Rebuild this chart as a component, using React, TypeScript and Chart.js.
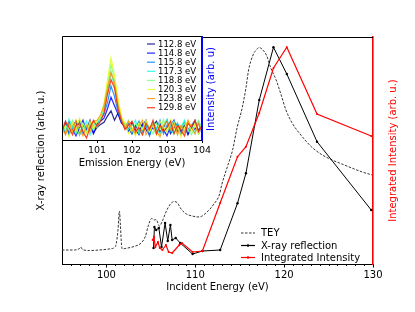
import React, { useEffect, useRef } from 'react';
import { Chart, registerables } from 'chart.js';
Chart.register(...registerables);

const FONT = "'DejaVu Sans', sans-serif";

// ---- Main plot data (incident energy scan) ----
const TEY_E = [95.0, 96.4, 96.97, 97.1, 97.3, 98.1, 99.2, 100.3, 100.9, 101.1, 101.3, 101.46, 101.57, 101.7, 101.8, 102.1, 103.1, 103.9, 104.4, 104.7, 105.1, 105.4, 105.6, 105.95, 106.3, 106.7, 107.2, 107.65, 108.0, 108.4, 109.0, 109.66, 110.45, 111.2, 112.1, 112.7, 113.0, 113.6, 114.2, 114.7, 115.3, 115.7, 116.0, 116.5, 116.85, 117.2, 117.6, 118.0, 118.5, 119.1, 119.7, 120.2, 120.9, 121.7, 123.1, 124.3, 125.4, 126.5, 127.6, 128.8, 129.9];
const TEY_V = [14, 14, 15.5, 17, 14.5, 13.5, 14, 15, 16.5, 20, 34, 53, 39, 19, 15, 15.5, 17.5, 21, 28, 38, 45.5, 44, 44.5, 38, 43, 52, 60, 62.5, 61, 55, 50, 48, 47, 51, 60, 69, 80, 97, 114, 136, 157, 176, 194, 209, 214, 216.5, 214, 209, 196, 184, 168, 154, 141, 131, 117, 109, 104, 100, 96, 92, 89];

const XRR_E = [105.3, 105.4, 105.6, 105.9, 106.2, 106.6, 106.9, 107.2, 107.4, 107.8, 108.3, 109.7, 110.8, 112.8, 114.75, 115.7, 117.2, 118.8, 120.3, 123.7, 129.8];
const XRR_V = [16, 37, 34, 36, 17, 41, 23, 39, 24, 26, 21, 10, 13, 14, 60.7, 90.7, 164, 216.7, 190, 122.3, 54];

const INT_E = [105.2, 105.35, 105.5, 105.8, 106.0, 106.3, 106.7, 107.0, 107.4, 108.2, 108.5, 109.7, 110.8, 112.8, 114.75, 115.7, 117.2, 118.8, 120.3, 123.7, 129.8];
const INT_V = [24, 27, 17, 22, 16, 14, 19, 12, 11, 19, 21, 12, 13, 61, 107.3, 117.3, 151, 196, 216.7, 150, 128];

const MAIN_X_TICKS = [100, 110, 120, 130];
const MAIN_X_MINOR = [96, 97, 98, 99, 101, 102, 103, 104, 105, 106, 107, 108, 109, 111, 112, 113, 114, 115, 116, 117, 118, 119, 121, 122, 123, 124, 125, 126, 127, 128, 129];

// ---- Inset data (emission spectra) ----
const EMISSION_E = [100.0, 100.1, 100.2, 100.3, 100.4, 100.5, 100.6, 100.7, 100.8, 100.9, 101.0, 101.1, 101.2, 101.3, 101.4, 101.5, 101.6, 101.7, 101.8, 101.9, 102.0, 102.1, 102.2, 102.3, 102.4, 102.5, 102.6, 102.7, 102.8, 102.9, 103.0, 103.1, 103.2, 103.3, 103.4, 103.5, 103.6, 103.7, 103.8, 103.9, 104.0];
const INSET_X_TICKS = [101, 102, 103, 104];
const SPEC_LABELS = ['112.8 eV', '114.8 eV', '115.8 eV', '117.3 eV', '118.8 eV', '120.3 eV', '123.8 eV', '129.8 eV'];
const SPEC_COLORS = ['rgba(0,0,128,0.85)', 'rgba(0,0,255,0.85)', 'rgba(0,128,255,0.85)', 'rgba(20,255,226,0.85)', 'rgba(123,255,123,0.85)', 'rgba(226,255,20,0.85)', 'rgba(255,150,0,0.85)', 'rgba(255,33,0,0.85)'];
const SPEC_112_8 = [0.08, 0.16, 0.06, 0.13, 0.18, 0.05, 0.14, 0.10, 0.19, 0.07, 0.12, 0.15, 0.17, 0.23, 0.28, 0.19, 0.26, 0.17, 0.15, 0.11, 0.06, 0.14, 0.08, 0.16, 0.10, 0.05, 0.14, 0.18, 0.08, 0.12, 0.19, 0.06, 0.12, 0.16, 0.08, 0.14, 0.05, 0.12, 0.18, 0.09, 0.14];
const SPEC_114_8 = [0.14, 0.06, 0.18, 0.10, 0.04, 0.12, 0.19, 0.08, 0.14, 0.06, 0.15, 0.18, 0.21, 0.30, 0.41, 0.33, 0.25, 0.16, 0.14, 0.08, 0.17, 0.10, 0.05, 0.14, 0.19, 0.08, 0.12, 0.06, 0.16, 0.10, 0.04, 0.14, 0.19, 0.08, 0.12, 0.17, 0.06, 0.14, 0.10, 0.16, 0.08];
const SPEC_115_8 = [0.10, 0.18, 0.05, 0.14, 0.08, 0.19, 0.06, 0.12, 0.16, 0.10, 0.16, 0.19, 0.25, 0.36, 0.52, 0.42, 0.27, 0.18, 0.11, 0.16, 0.06, 0.12, 0.18, 0.08, 0.14, 0.04, 0.16, 0.10, 0.19, 0.06, 0.14, 0.08, 0.18, 0.12, 0.05, 0.16, 0.10, 0.14, 0.19, 0.06, 0.12];
const SPEC_117_3 = [0.16, 0.08, 0.20, 0.12, 0.06, 0.14, 0.10, 0.18, 0.05, 0.14, 0.17, 0.21, 0.30, 0.46, 0.65, 0.52, 0.32, 0.20, 0.15, 0.10, 0.14, 0.19, 0.06, 0.12, 0.16, 0.08, 0.18, 0.12, 0.05, 0.14, 0.20, 0.10, 0.06, 0.16, 0.12, 0.19, 0.08, 0.14, 0.06, 0.18, 0.12];
const SPEC_118_8 = [0.06, 0.14, 0.10, 0.19, 0.12, 0.05, 0.16, 0.08, 0.14, 0.18, 0.12, 0.20, 0.33, 0.52, 0.73, 0.58, 0.36, 0.21, 0.13, 0.19, 0.08, 0.16, 0.10, 0.05, 0.18, 0.12, 0.06, 0.16, 0.10, 0.20, 0.08, 0.14, 0.18, 0.06, 0.12, 0.16, 0.10, 0.05, 0.14, 0.19, 0.10];
const SPEC_120_3 = [0.19, 0.10, 0.03, 0.16, 0.08, 0.21, 0.12, 0.06, 0.18, 0.10, 0.18, 0.23, 0.35, 0.58, 0.79, 0.62, 0.40, 0.22, 0.16, 0.06, 0.12, 0.04, 0.16, 0.10, 0.19, 0.08, 0.14, 0.05, 0.18, 0.12, 0.08, 0.19, 0.10, 0.14, 0.03, 0.12, 0.18, 0.08, 0.16, 0.06, 0.14];
const SPEC_123_8 = [0.12, 0.05, 0.16, 0.08, 0.19, 0.10, 0.04, 0.14, 0.08, 0.18, 0.19, 0.24, 0.33, 0.50, 0.65, 0.55, 0.34, 0.20, 0.12, 0.18, 0.10, 0.06, 0.14, 0.19, 0.05, 0.12, 0.16, 0.08, 0.03, 0.14, 0.18, 0.10, 0.16, 0.05, 0.14, 0.08, 0.19, 0.12, 0.06, 0.16, 0.08];
const SPEC_129_8 = [0.08, 0.18, 0.12, 0.05, 0.14, 0.16, 0.08, 0.02, 0.12, 0.19, 0.13, 0.18, 0.26, 0.44, 0.58, 0.50, 0.30, 0.18, 0.10, 0.14, 0.18, 0.08, 0.12, 0.05, 0.16, 0.10, 0.19, 0.06, 0.14, 0.08, 0.12, 0.18, 0.06, 0.14, 0.10, 0.04, 0.16, 0.12, 0.19, 0.08, 0.14];
const SPECTRA = [SPEC_112_8, SPEC_114_8, SPEC_115_8, SPEC_117_3, SPEC_118_8, SPEC_120_3, SPEC_123_8, SPEC_129_8];

const toPts = (xs: number[], ys: number[]) => xs.map((x, i) => ({ x, y: ys[i] }));

const mainDecor = {
  id: 'mainDecor',
  afterDraw(chart: any) {
    const { ctx, chartArea: a, scales } = chart;
    ctx.save();
    ctx.strokeStyle = '#000';
    ctx.lineWidth = 1;
    ctx.beginPath();
    ctx.moveTo(a.left, a.top + 0.5);
    ctx.lineTo(a.right, a.top + 0.5);
    ctx.stroke();
    MAIN_X_MINOR.forEach((v) => {
      const px = Math.round(scales.x.getPixelForValue(v)) + 0.5;
      ctx.beginPath();
      ctx.moveTo(px, a.bottom);
      ctx.lineTo(px, a.bottom + 2);
      ctx.stroke();
    });
    ctx.fillStyle = '#ff0000';
    ctx.font = `10px ${FONT}`;
    ctx.textAlign = 'center';
    ctx.textBaseline = 'middle';
    ctx.translate(393, (a.top + a.bottom) / 2);
    ctx.rotate(-Math.PI / 2);
    ctx.fillText('Integrated Intensity (arb. u.)', 0, 0);
    ctx.restore();

    ctx.save();
    ctx.font = `10px ${FONT}`;
    ctx.textBaseline = 'middle';
    ctx.textAlign = 'left';
    const x0 = 241, x1 = 255, tx = 261;
    const rows = [
      { y: 233, color: '#333', dash: [2.5, 1.5], label: 'TEY', dot: false },
      { y: 245.5, color: '#000', dash: [], label: 'X-ray reflection', dot: true },
      { y: 257.5, color: '#ff0000', dash: [], label: 'Integrated Intensity', dot: true },
    ];
    rows.forEach((r) => {
      ctx.strokeStyle = r.color;
      ctx.lineWidth = 1.2;
      ctx.setLineDash(r.dash);
      ctx.beginPath();
      ctx.moveTo(x0, r.y);
      ctx.lineTo(x1, r.y);
      ctx.stroke();
      ctx.setLineDash([]);
      if (r.dot) {
        ctx.fillStyle = r.color;
        ctx.beginPath();
        ctx.arc((x0 + x1) / 2, r.y, 1.2, 0, Math.PI * 2);
        ctx.fill();
      }
      ctx.fillStyle = '#000';
      ctx.fillText(r.label, tx, r.y + 0.5);
    });
    ctx.restore();
  },
};

const insetDecor = {
  id: 'insetDecor',
  beforeDraw(chart: any) {
    const { ctx, chartArea: a } = chart;
    ctx.save();
    ctx.fillStyle = '#fff';
    ctx.fillRect(a.left, a.top, a.right - a.left, a.bottom - a.top);
    ctx.restore();
  },
  afterDraw(chart: any) {
    const { ctx, chartArea: a } = chart;
    ctx.save();
    ctx.strokeStyle = '#000';
    ctx.lineWidth = 1;
    ctx.beginPath();
    ctx.moveTo(a.left + 0.5, a.bottom);
    ctx.lineTo(a.left + 0.5, a.top + 0.5);
    ctx.lineTo(a.right, a.top + 0.5);
    ctx.stroke();
    ctx.strokeStyle = '#0000ff';
    ctx.lineWidth = 2;
    ctx.beginPath();
    ctx.moveTo(a.right, a.top);
    ctx.lineTo(a.right, a.bottom + 1);
    ctx.stroke();
    ctx.fillStyle = '#0000ff';
    ctx.font = `10px ${FONT}`;
    ctx.textAlign = 'center';
    ctx.textBaseline = 'middle';
    ctx.save();
    ctx.translate(211, (a.top + a.bottom) / 2 + 1);
    ctx.rotate(-Math.PI / 2);
    ctx.fillText('Intensity (arb. u)', 0, 0);
    ctx.restore();
    ctx.font = `8.5px ${FONT}`;
    ctx.textAlign = 'left';
    SPEC_LABELS.forEach((lab, i) => {
      const y = 44 + i * 9.1;
      ctx.strokeStyle = SPEC_COLORS[i];
      ctx.lineWidth = 1.2;
      ctx.beginPath();
      ctx.moveTo(147, y);
      ctx.lineTo(155, y);
      ctx.stroke();
      ctx.fillStyle = '#000';
      ctx.fillText(lab, 158, y + 0.5);
    });
    ctx.restore();
  },
};

export default function App() {
  const mainRef = useRef<HTMLCanvasElement | null>(null);
  const insetRef = useRef<HTMLCanvasElement | null>(null);

  useEffect(() => {
    const main = new Chart(mainRef.current as HTMLCanvasElement, {
      type: 'line',
      data: {
        datasets: [
          {
            label: 'TEY',
            data: toPts(TEY_E, TEY_V),
            borderColor: '#333',
            borderWidth: 1,
            borderDash: [2.5, 1.5],
            pointRadius: 0,
            cubicInterpolationMode: 'monotone',
            yAxisID: 'y',
            order: 3,
          },
          {
            label: 'X-ray reflection',
            data: toPts(XRR_E, XRR_V),
            borderColor: '#000',
            borderWidth: 1,
            pointRadius: 1.2,
            pointBorderWidth: 0,
            pointBackgroundColor: '#000',
            yAxisID: 'y',
            order: 2,
          },
          {
            label: 'Integrated Intensity',
            data: toPts(INT_E, INT_V),
            borderColor: '#ff0000',
            borderWidth: 1.2,
            pointRadius: 1,
            pointBorderWidth: 0,
            pointBackgroundColor: '#ff0000',
            yAxisID: 'y1',
            order: 1,
          },
        ],
      } as any,
      options: {
        responsive: false,
        animation: false,
        layout: { padding: { top: 37, left: 0, right: 0, bottom: 0 } },
        plugins: { legend: { display: false }, tooltip: { enabled: false } },
        scales: {
          x: {
            type: 'linear',
            min: 95,
            max: 130,
            afterBuildTicks: (s: any) => {
              s.ticks = MAIN_X_TICKS.map((v) => ({ value: v }));
            },
            afterFit: (s: any) => {
              s.height = 48;
            },
            ticks: { font: { family: FONT, size: 10 }, color: '#000', padding: 2, maxRotation: 0, autoSkip: false },
            grid: { drawOnChartArea: false, drawTicks: true, tickLength: 3.5, color: '#000' },
            border: { display: true, color: '#000', width: 1 },
            title: { display: true, text: 'Incident Energy (eV)', font: { family: FONT, size: 10 }, color: '#000', padding: { top: 0, bottom: 19 } },
          },
          y: {
            position: 'left',
            min: 0,
            max: 227,
            ticks: { display: false },
            grid: { display: false },
            border: { display: true, color: '#000', width: 1 },
            afterFit: (s: any) => {
              s.width = 62;
            },
            title: { display: true, text: 'X-ray reflection (arb. u.)', font: { family: FONT, size: 10 }, color: '#000', padding: { top: 35.5, bottom: 0 } },
          },
          y1: {
            position: 'right',
            min: 0,
            max: 227,
            ticks: { display: false },
            grid: { display: false },
            border: { display: true, color: '#ff0000', width: 1.6 },
            afterFit: (s: any) => {
              s.width = 42;
            },
          },
        },
      } as any,
      plugins: [mainDecor],
    });

    const inset = new Chart(insetRef.current as HTMLCanvasElement, {
      type: 'line',
      data: {
        datasets: SPECTRA.map((vals, i) => ({
          label: SPEC_LABELS[i],
          data: toPts(EMISSION_E, vals),
          borderColor: SPEC_COLORS[i],
          borderWidth: 1.2,
          pointRadius: 0,
          order: SPECTRA.length - i,
        })),
      } as any,
      options: {
        responsive: false,
        animation: false,
        layout: { padding: { top: 36, left: 62, right: 213, bottom: 0 } },
        plugins: { legend: { display: false }, tooltip: { enabled: false } },
        scales: {
          x: {
            type: 'linear',
            min: 100,
            max: 104,
            afterBuildTicks: (s: any) => {
              s.ticks = INSET_X_TICKS.map((v) => ({ value: v }));
            },
            afterFit: (s: any) => {
              s.height = 35;
            },
            ticks: { font: { family: FONT, size: 9.5 }, color: '#000', padding: 2, maxRotation: 0, autoSkip: false },
            grid: { drawOnChartArea: false, drawTicks: true, tickLength: 3, color: '#000' },
            border: { display: true, color: '#000', width: 1 },
            title: { display: true, text: 'Emission Energy (eV)', font: { family: FONT, size: 10 }, color: '#000', padding: { top: 0, bottom: 5.5 } },
          },
          y: { display: false, min: 0, max: 1 },
        },
      } as any,
      plugins: [insetDecor],
    });

    return () => {
      main.destroy();
      inset.destroy();
    };
  }, []);

  return (
    <div style={{ position: 'absolute', left: 0, top: 0, width: 415, height: 312, background: '#fff' }}>
      <canvas ref={mainRef} width={415} height={312} style={{ position: 'absolute', left: 0, top: 0, width: 415, height: 312 }} />
      <canvas ref={insetRef} width={415} height={175} style={{ position: 'absolute', left: 0, top: 0, width: 415, height: 175 }} />
    </div>
  );
}
